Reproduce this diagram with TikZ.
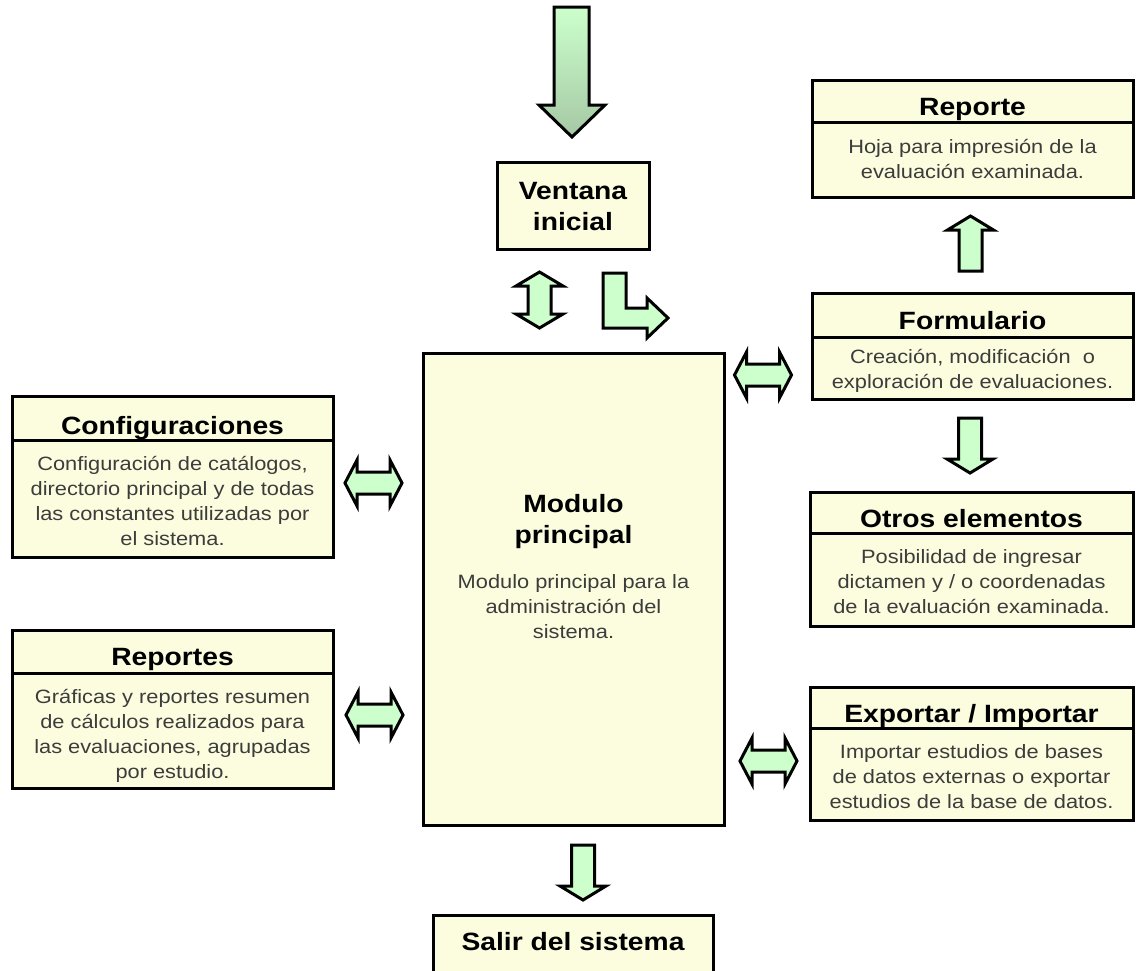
\documentclass[tikz,border=0pt]{standalone}
\usepackage{fontspec}
\setmainfont{Liberation Sans}[FakeStretch=1.13]

\definecolor{cajafondo}{RGB}{252,252,222}
\definecolor{flechaverde}{RGB}{204,255,204}
\definecolor{verdeoscuro}{RGB}{165,200,165}
\definecolor{textodesc}{RGB}{60,60,60}

\tikzset{
  caja/.style={rectangle, draw, line width=3pt, fill=cajafondo, inner sep=0pt, outer sep=0pt, anchor=north west},
  divisor/.style={line width=3pt},
  titulo/.style={font=\fontsize{25}{31}\selectfont\bfseries, align=center, anchor=base, inner sep=0pt},
  desc/.style={font=\fontsize{19.3}{25}\selectfont, text=textodesc, align=center, anchor=base, inner sep=0pt},
  flecha/.style={draw, line width=3pt, line join=miter, fill=flechaverde},
  % flecha doble horizontal, centrada
  dobleh/.pic={\draw[flecha] (-28.5,0) -- (-16.5,-23) -- (-16.5,-11) -- (16.5,-11) -- (16.5,-23)
      -- (28.5,0) -- (16.5,23) -- (16.5,11) -- (-16.5,11) -- (-16.5,23) -- cycle;},
  % flecha doble vertical, centrada
  doblev/.pic={\draw[flecha] (0,-28) -- (23.5,-14) -- (11.5,-14) -- (11.5,14) -- (23.5,14)
      -- (0,28) -- (-23.5,14) -- (-11.5,14) -- (-11.5,-14) -- (-23.5,-14) -- cycle;},
  % flecha simple, desde el centro de la cola hacia abajo
  bajada/.pic={\draw[flecha] (-11.5,0) -- (11.5,0) -- (11.5,41) -- (23,41) -- (0,55)
      -- (-23,41) -- (-11.5,41) -- cycle;}
}

\begin{document}
\begin{tikzpicture}[x=1pt, y=-1pt]
\clip (0,0) rectangle (1140,970);

% cajas
\node[caja, minimum width=321pt, minimum height=117pt] (reporte) at (812,80) {};
\node[caja, minimum width=321pt, minimum height=106pt] (formulario) at (812,293) {};
\node[caja, minimum width=323pt, minimum height=134pt] (otros) at (810,492) {};
\node[caja, minimum width=323pt, minimum height=133pt] (exportar) at (810,687) {};
\node[caja, minimum width=321pt, minimum height=161pt] (config) at (12,396) {};
\node[caja, minimum width=321pt, minimum height=158pt] (reportes) at (12,630) {};
\node[caja, minimum width=152pt, minimum height=87pt] (ventana) at (497,162) {};
\node[caja, minimum width=301pt, minimum height=472pt] (modulo) at (423,353) {};
\node[caja, minimum width=280pt, minimum height=90pt] (salir) at (433,915) {};

\foreach \c/\d in {reporte/42, formulario/44, otros/41, exportar/41, config/44, reportes/43}
  \draw[divisor] ([yshift=-\d pt]\c.north west) -- ([yshift=-\d pt]\c.north east);

% textos (anclados en la linea base de la ultima linea)
\node[titulo] (reporteT) at (972.5,115) {Reporte};
\node[desc] (reporteD) at (972.5,178) {Hoja para impresión de la\\evaluación examinada.};
\node[titulo] (formularioT) at (972.5,329) {Formulario};
\node[desc] (formularioD) at (972.5,388) {Creación, modificación~ o\\exploración de evaluaciones.};
\node[titulo] (otrosT) at (971.5,527) {Otros elementos};
\node[desc] (otrosD) at (971.5,613) {Posibilidad de ingresar\\dictamen y / o coordenadas\\de la evaluación examinada.};
\node[titulo] (exportarT) at (971.5,722) {Exportar / Importar};
\node[desc] (exportarD) at (971.5,808) {Importar estudios de bases\\de datos externas o exportar\\estudios de la base de datos.};
\node[titulo] (configT) at (172.5,434) {Configuraciones};
\node[desc] (configD) at (172.5,545) {Configuración de catálogos,\\directorio principal y de todas\\las constantes utilizadas por\\el sistema.};
\node[titulo] (reportesT) at (172.5,665) {Reportes};
\node[desc] (reportesD) at (172.5,778) {Gráficas y reportes resumen\\de cálculos realizados para\\las evaluaciones, agrupadas\\por estudio.};
\node[titulo] (ventanaT) at (573,230) {Ventana\\inicial};
\node[titulo] (moduloT) at (573.5,543) {Modulo\\principal};
\node[desc] (moduloD) at (573.5,638) {Modulo principal para la\\administración del\\sistema.};
\node[titulo] (salirT) at (573,950) {Salir del sistema};

% flecha de entrada
\draw[line width=3pt, line join=miter, top color=flechaverde, bottom color=verdeoscuro]
  (554,7) -- (589,7) -- (589,105) -- (605,105) -- (572,137) -- (539,105) -- (554,105) -- cycle;

% flechas entre cajas
\pic at (539.5,300) {doblev};
\draw[flecha] (603,273) -- (626,273) -- (626,308) -- (647,308) -- (647,298) -- (668,318)
  -- (647,338) -- (647,328) -- (603,328) -- cycle;
\pic at (373.5,483) {dobleh};
\pic at (374.5,715) {dobleh};
\pic at (763,375) {dobleh};
\pic at (768.5,761) {dobleh};
\pic at (970,418) {bajada};
\pic at (583,845) {bajada};
\pic[yscale=-1] at (970.5,271) {bajada};

\end{tikzpicture}
\end{document}
